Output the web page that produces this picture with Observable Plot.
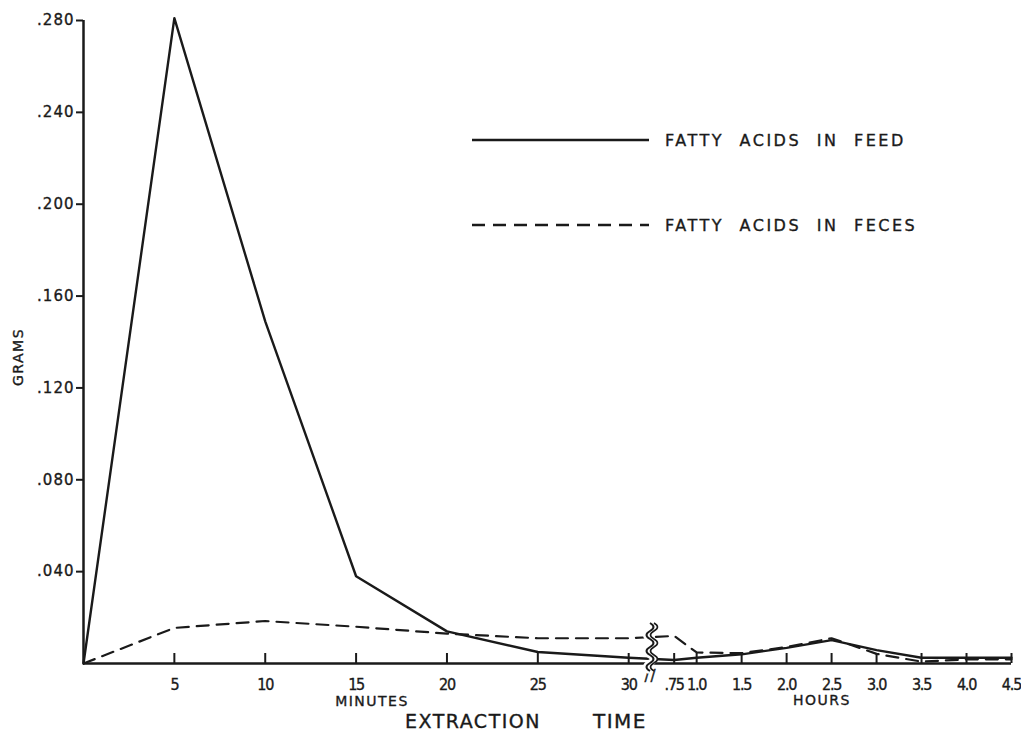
<!DOCTYPE html>
<html>
<head>
<meta charset="utf-8">
<script src="https://cdn.jsdelivr.net/npm/d3@7"></script>
<script src="https://cdn.jsdelivr.net/npm/@observablehq/plot@0.6"></script>
<style>
  html, body { margin: 0; padding: 0; background: #fff; }
  #wrap { position: relative; width: 1021px; height: 736px; font-family: "DejaVu Sans", sans-serif; color: #1a1a1a; }
  #wrap svg text { letter-spacing: 1px; stroke: #1a1a1a; stroke-width: 0.35px; }
  #wrap svg g.xlab text { letter-spacing: -1.2px; font-family: "DejaVu Sans Condensed", "DejaVu Sans", sans-serif; }
  .lbl { position: absolute; white-space: nowrap; letter-spacing: 1.5px; -webkit-text-stroke: 0.35px #1a1a1a; }
  .leg { position: absolute; white-space: nowrap; font-size: 16px; letter-spacing: 2.5px; word-spacing: 8px; -webkit-text-stroke: 0.35px #1a1a1a; }
</style>
</head>
<body>
<div id="wrap"></div>
<script>
// ---- data ----
const minutes = [0, 5, 10, 15, 20, 25, 30];
const feedMinutes = [0, 0.281, 0.149, 0.038, 0.014, 0.005, 0.0025];
const fecesMinutes = [0, 0.0155, 0.0185, 0.016, 0.013, 0.011, 0.011];

const hours = [0.75, 1.0, 1.5, 2.0, 2.5, 3.0, 3.5, 4.0, 4.5];
const feedHours = [0.0015, 0.0025, 0.004, 0.0068, 0.0102, 0.0058, 0.0025, 0.0025, 0.0025];
const fecesHours = [0.012, 0.0048, 0.0045, 0.0072, 0.011, 0.0042, 0.0008, 0.0018, 0.0018];

const minuteTickLabels = ["5", "10", "15", "20", "25", "30"];
const hourTickLabels = [".75", "1.0", "1.5", "2.0", "2.5", "3.0", "3.5", "4.0", "4.5"];
const yTicks = [0.04, 0.08, 0.12, 0.16, 0.20, 0.24, 0.28];

// broken axis: one hour spans about the same length as five minutes
const hourStart = 33.74, hourUnit = 4.95;
const posMin = m => m;
const posHr = h => hourStart + (h - 1) * hourUnit;
const breakPos = 31.2;
const xMax = posHr(4.5);

const rows = [];
minutes.forEach((m, i) => {
  rows.push({series: "feed", pos: posMin(m), v: feedMinutes[i]});
  rows.push({series: "feces", pos: posMin(m), v: fecesMinutes[i]});
});
hours.forEach((h, i) => {
  rows.push({series: "feed", pos: posHr(h), v: feedHours[i]});
  rows.push({series: "feces", pos: posHr(h), v: fecesHours[i]});
});
const feed = rows.filter(d => d.series === "feed");
const feces = rows.filter(d => d.series === "feces");

const xTicks = [
  ...minutes.slice(1).map((m, i) => ({pos: posMin(m), label: minuteTickLabels[i]})),
  ...hours.map((h, i) => ({pos: posHr(h), label: hourTickLabels[i]}))
];

const W = 1021, H = 736, mLeft = 83, mRight = 10, mTop = 20, mBottom = 73;
const pxPerUnit = (H - mTop - mBottom) / 0.28;
const tickLen = 10 / pxPerUnit;
const ink = "#1a1a1a";

const chart = Plot.plot({
  width: W,
  height: H,
  marginLeft: mLeft,
  marginRight: mRight,
  marginTop: mTop,
  marginBottom: mBottom,
  style: {fontFamily: "DejaVu Sans, sans-serif", fontSize: "15px", color: ink, background: "#fff"},
  x: {domain: [0, xMax], axis: null},
  y: {domain: [0, 0.28], axis: null},
  marks: [
    Plot.axisY({
      ticks: yTicks,
      label: null,
      tickSize: 7,
      tickPadding: 2,
      stroke: ink,
      strokeWidth: 2,
      fontSize: 15,
      tickFormat: d => d3.format(".3f")(d).replace(/^0/, "")
    }),
    Plot.ruleX([0], {y1: 0, y2: 0.28, stroke: ink, strokeWidth: 2.5}),
    Plot.ruleY([0], {x1: 0, x2: xMax, stroke: ink, strokeWidth: 2.5}),
    Plot.ruleX(xTicks, {x: "pos", y1: 0, y2: tickLen, stroke: ink, strokeWidth: 2}),
    Plot.text(xTicks, {x: "pos", y: 0, text: "label", dy: 21, fontSize: 16, fill: ink, className: "xlab"}),
    Plot.line(feed, {x: "pos", y: "v", stroke: ink, strokeWidth: 2.4}),
    Plot.line(feces, {x: "pos", y: "v", stroke: ink, strokeWidth: 2.2, strokeDasharray: "12,8"}),
    Plot.text([breakPos], {x: d => d, y: 0, text: () => "//", dy: 13, fontSize: 15, fill: ink})
  ]
});

const wrap = document.getElementById("wrap");
wrap.appendChild(chart);

// wavy axis-break symbol, placed with the chart's own x scale
const ns = "http://www.w3.org/2000/svg";
const bx = chart.scale("x").apply(breakPos);
const by = chart.scale("y").apply(0);
const brk = document.createElementNS(ns, "svg");
brk.setAttribute("width", "30");
brk.setAttribute("height", "64");
Object.assign(brk.style, {position: "absolute", left: (bx - 15) + "px", top: (by - 44) + "px"});
let d = "M15,4";
for (let k = 0; k < 6; k++) d += (k % 2 ? " q-7,4 0,8" : " q7,4 0,8");
const bg = document.createElementNS(ns, "path");
bg.setAttribute("d", d); bg.setAttribute("fill", "none");
bg.setAttribute("stroke", "#fff"); bg.setAttribute("stroke-width", "7");
const fg = document.createElementNS(ns, "path");
fg.setAttribute("d", d); fg.setAttribute("fill", "none");
fg.setAttribute("stroke", ink); fg.setAttribute("stroke-width", "2");
const d2 = d.replace("M15,4", "M19,4");
const fg2 = document.createElementNS(ns, "path");
fg2.setAttribute("d", d2); fg2.setAttribute("fill", "none");
fg2.setAttribute("stroke", ink); fg2.setAttribute("stroke-width", "1.6");
brk.appendChild(bg); brk.appendChild(fg); brk.appendChild(fg2);
wrap.appendChild(brk);

function addLabel(text, cls, css) {
  const el = document.createElement("div");
  el.className = cls;
  el.textContent = text;
  Object.assign(el.style, css);
  wrap.appendChild(el);
  return el;
}
addLabel("GRAMS", "lbl", {left: "18px", top: "357px", fontSize: "14px", transform: "translate(-50%,-50%) rotate(-90deg)"});
addLabel("MINUTES", "lbl", {left: "372px", top: "701px", fontSize: "14px", transform: "translate(-50%,-50%)"});
addLabel("HOURS", "lbl", {left: "822px", top: "700px", fontSize: "14px", transform: "translate(-50%,-50%)"});
addLabel("EXTRACTION", "lbl", {left: "473px", top: "721px", fontSize: "19px", transform: "translate(-50%,-50%)"});
addLabel("TIME", "lbl", {left: "620px", top: "721px", fontSize: "20px", transform: "translate(-50%,-50%)"});

// legend
const legendItems = [
  {label: "FATTY ACIDS IN FEED", dash: null, y: 140},
  {label: "FATTY ACIDS IN FECES", dash: "13,8", y: 225}
];
legendItems.forEach(it => {
  const s = document.createElementNS(ns, "svg");
  s.setAttribute("width", "182");
  s.setAttribute("height", "6");
  Object.assign(s.style, {position: "absolute", left: "471px", top: (it.y - 3) + "px"});
  const ln = document.createElementNS(ns, "line");
  ln.setAttribute("x1", "1"); ln.setAttribute("x2", "178");
  ln.setAttribute("y1", "3"); ln.setAttribute("y2", "3");
  ln.setAttribute("stroke", ink);
  ln.setAttribute("stroke-width", "2.4");
  if (it.dash) ln.setAttribute("stroke-dasharray", it.dash);
  s.appendChild(ln);
  wrap.appendChild(s);
  addLabel(it.label, "leg", {left: "665px", top: it.y + "px", transform: "translateY(-50%)"});
});
</script>
</body>
</html>
